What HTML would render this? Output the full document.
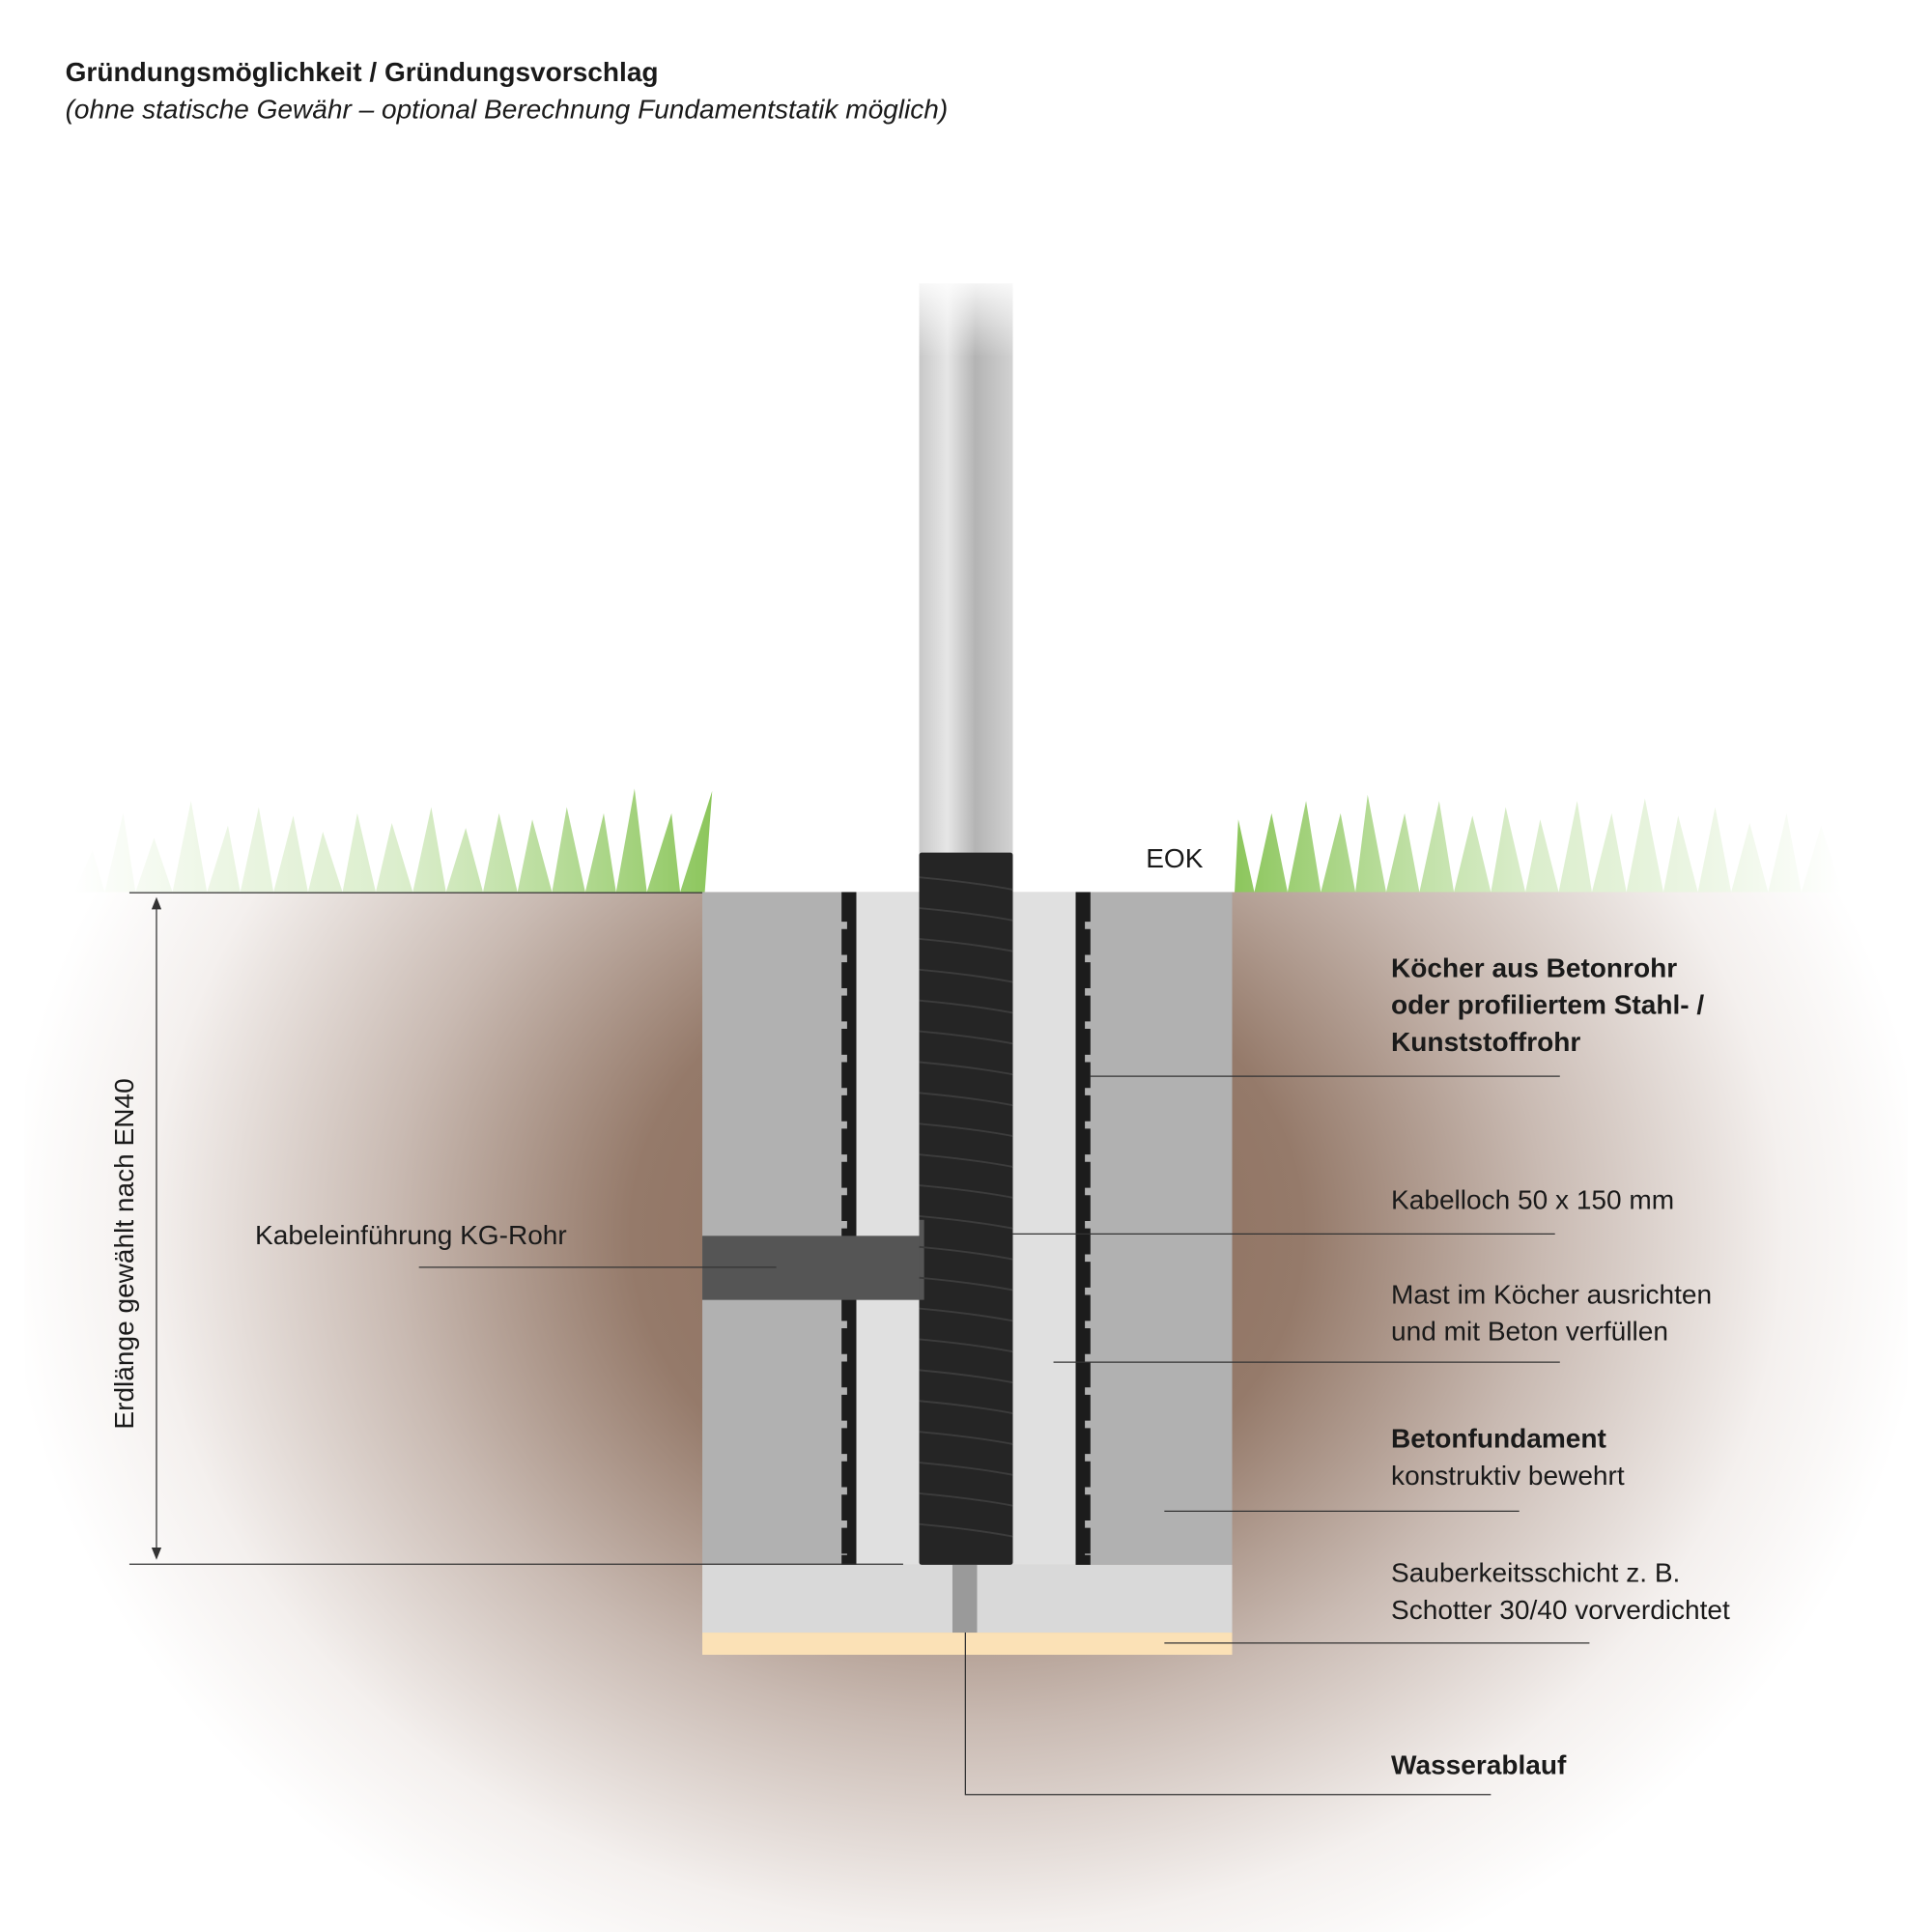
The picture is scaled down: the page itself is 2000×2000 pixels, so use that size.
<!DOCTYPE html>
<html><head><meta charset="utf-8"><style>
html,body{margin:0;padding:0;background:#fff}
svg{display:block}
text{font-family:"Liberation Sans",sans-serif;fill:#1a1a1a}
</style></head><body>
<svg width="2000" height="2000" viewBox="0 0 1568 1568" xmlns="http://www.w3.org/2000/svg">
<defs>
<radialGradient id="soil" cx="785" cy="1000" r="780" gradientUnits="userSpaceOnUse" gradientTransform="translate(785 1000) scale(1 0.85) translate(-785 -1000)">
<stop offset="0" stop-color="#8a6a58"/>
<stop offset="0.35" stop-color="#957a6a"/>
<stop offset="0.6" stop-color="#c9bab2"/>
<stop offset="0.85" stop-color="#f4f0ee"/>
<stop offset="1" stop-color="#ffffff"/>
</radialGradient>
<linearGradient id="pole" x1="0" x2="1">
<stop offset="0" stop-color="#c8c8c8"/><stop offset="0.3" stop-color="#e6e6e6"/><stop offset="0.6" stop-color="#b4b4b4"/><stop offset="1" stop-color="#d2d2d2"/>
</linearGradient>
<linearGradient id="poleFade" x1="0" y1="0" x2="0" y2="1">
<stop offset="0" stop-color="#fff" stop-opacity="1"/><stop offset="0.35" stop-color="#fff" stop-opacity="0"/>
</linearGradient>
<linearGradient id="grassL" x1="0" x2="1">
<stop offset="0" stop-color="#8dc85e" stop-opacity="0"/><stop offset="0.5" stop-color="#a8d584" stop-opacity="0.4"/><stop offset="1" stop-color="#8cc65c"/>
</linearGradient>
<linearGradient id="grassR" x1="0" x2="1">
<stop offset="0" stop-color="#8cc65c"/><stop offset="0.5" stop-color="#a8d584" stop-opacity="0.4"/><stop offset="1" stop-color="#8dc85e" stop-opacity="0"/>
</linearGradient>
</defs>
<rect width="1568" height="1568" fill="#fff"/>
<rect x="20" y="724" width="1528" height="844" fill="url(#soil)"/>
<path fill="url(#grassL)" d="M60 724 L75 690 L85 724 L100 660 L110 724 L125 680 L140 724 L155 650 L168 724 L185 670 L195 724 L210 655 L222 724 L238 662 L250 724 L262 675 L278 724 L290 660 L305 724 L318 668 L335 724 L350 655 L362 724 L378 672 L392 724 L405 660 L420 724 L432 665 L448 724 L460 655 L475 724 L490 660 L500 724 L515 640 L525 724 L545 660 L552 724 L578 642 L572 724 Z"/>
<path fill="url(#grassR)" d="M1002 724 L1005 665 L1018 724 L1032 660 L1045 724 L1060 650 L1072 724 L1088 660 L1100 724 L1110 645 L1125 724 L1140 660 L1152 724 L1168 650 L1180 724 L1195 662 L1210 724 L1222 655 L1238 724 L1250 665 L1265 724 L1280 650 L1292 724 L1308 660 L1320 724 L1335 648 L1350 724 L1362 662 L1378 724 L1392 655 L1405 724 L1420 668 L1435 724 L1450 660 L1462 724 L1478 670 L1495 724 Z"/>
<line x1="105" y1="724.5" x2="1000" y2="724.5" stroke="#333" stroke-width="1"/>
<rect x="570" y="724" width="430" height="546" fill="#b1b1b1"/>
<rect x="570" y="1270" width="430" height="55" fill="#d9d9d9"/>
<rect x="570" y="1325" width="430" height="18" fill="#fbe1b6"/>
<rect x="695" y="724" width="178" height="546" fill="#e0e0e0"/>
<rect x="683" y="724" width="12" height="546" fill="#1c1c1c"/>
<rect x="873" y="724" width="12" height="546" fill="#1c1c1c"/>
<path d="M685 748 V1262" stroke="#b1b1b1" stroke-width="5" stroke-dasharray="6 21"/>
<path d="M883 748 V1262" stroke="#b1b1b1" stroke-width="5" stroke-dasharray="6 21"/>
<rect x="773" y="1270" width="20" height="55" fill="#9a9a9a"/>
<rect x="570" y="1003" width="182" height="52" fill="#555"/>
<rect x="746" y="230" width="76" height="464" fill="url(#pole)"/>
<rect x="740" y="220" width="90" height="200" fill="url(#poleFade)"/>
<rect x="746" y="692" width="76" height="578" fill="#252525" rx="2"/>
<rect x="746" y="990" width="4" height="65" fill="#555"/>
<path d="M746 712 Q790 716 822 722 M746 737 Q790 741 822 747 M746 762 Q790 766 822 772 M746 787 Q790 791 822 797 M746 812 Q790 816 822 822 M746 837 Q790 841 822 847 M746 862 Q790 866 822 872 M746 887 Q790 891 822 897 M746 912 Q790 916 822 922 M746 937 Q790 941 822 947 M746 962 Q790 966 822 972 M746 987 Q790 991 822 997 M746 1012 Q790 1016 822 1022 M746 1037 Q790 1041 822 1047 M746 1062 Q790 1066 822 1072 M746 1087 Q790 1091 822 1097 M746 1112 Q790 1116 822 1122 M746 1137 Q790 1141 822 1147 M746 1162 Q790 1166 822 1172 M746 1187 Q790 1191 822 1197 M746 1212 Q790 1216 822 1222 M746 1237 Q790 1241 822 1247" stroke="#3c3c3c" stroke-width="1.5" fill="none"/>
<line x1="105" y1="1269.5" x2="733" y2="1269.5" stroke="#333"/>
<line x1="127" y1="734" x2="127" y2="1260" stroke="#333"/>
<path d="M123 738 L127 728 L131 738 Z M123 1256 L127 1266 L131 1256 Z" fill="#333"/>
<text transform="translate(108 1160) rotate(-90)" font-size="22">Erdlänge gewählt nach EN40</text>
<g stroke="#333" stroke-width="1" fill="none">
<line x1="885" y1="873.5" x2="1266" y2="873.5"/>
<line x1="822" y1="1001.5" x2="1262" y2="1001.5"/>
<line x1="855" y1="1105.5" x2="1266" y2="1105.5"/>
<line x1="945" y1="1226.5" x2="1233" y2="1226.5"/>
<line x1="945" y1="1333.5" x2="1290" y2="1333.5"/>
<line x1="340" y1="1028.5" x2="630" y2="1028.5"/>
<path d="M783.5 1325 V1456.5 H1210"/>
</g>
<text x="53" y="66" font-size="22" font-weight="bold">Gründungsmöglichkeit / Gründungsvorschlag</text>
<text x="53" y="96" font-size="22" font-style="italic" fill="#333">(ohne statische Gewähr – optional Berechnung Fundamentstatik möglich)</text>
<text x="930" y="704" font-size="22">EOK</text>
<g font-size="22">
<text x="1129" y="793" font-weight="bold">Köcher aus Betonrohr</text>
<text x="1129" y="823" font-weight="bold">oder profiliertem Stahl- /</text>
<text x="1129" y="853" font-weight="bold">Kunststoffrohr</text>
<text x="1129" y="981">Kabelloch 50 x 150 mm</text>
<text x="1129" y="1058">Mast im Köcher ausrichten</text>
<text x="1129" y="1088">und mit Beton verfüllen</text>
<text x="1129" y="1175" font-weight="bold">Betonfundament</text>
<text x="1129" y="1205">konstruktiv bewehrt</text>
<text x="1129" y="1284">Sauberkeitsschicht z. B.</text>
<text x="1129" y="1314">Schotter 30/40 vorverdichtet</text>
<text x="1129" y="1440" font-weight="bold">Wasserablauf</text>
<text x="207" y="1010">Kabeleinführung KG-Rohr</text>
</g>
</svg>
</body></html>
